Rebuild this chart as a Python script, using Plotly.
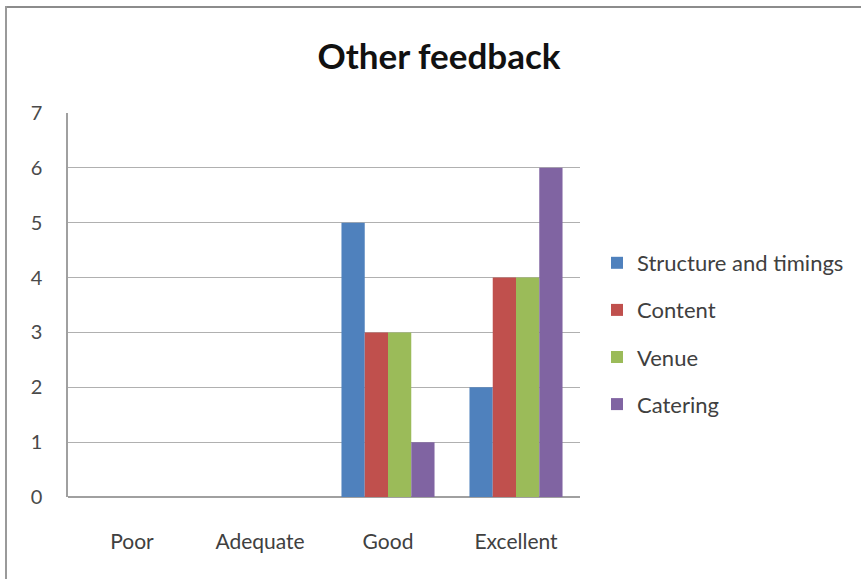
import plotly.graph_objects as go

categories = ["Poor", "Adequate", "Good", "Excellent"]
structure = [0, 0, 5, 2]
content = [0, 0, 3, 4]
venue = [0, 0, 3, 4]
catering = [0, 0, 1, 6]

series_names = ["Structure and timings", "Content", "Venue", "Catering"]
series_vals = [structure, content, venue, catering]
colors = ["#4F81BD", "#C0504D", "#9BBB59", "#8064A2"]

W, H = 861, 579
L, R, T, B = 68, 281, 113, 82
pw, ph = W - L - R, H - T - B

fig = go.Figure()
for i, (name, vals, c) in enumerate(zip(series_names, series_vals, colors)):
    fig.add_trace(go.Bar(x=categories, y=vals, name=name, marker_color=c,
                         marker_line_width=0, legendgroup=str(i)))

font = "Lato, Open Sans, sans-serif"
fig.update_layout(
    width=W, height=H,
    margin=dict(l=L, r=R, t=T, b=B),
    paper_bgcolor="white", plot_bgcolor="white",
    barmode="group", bargap=0.273, bargroupgap=0,
    title=dict(text="<b>Other feedback</b>", x=439 / W, xanchor="center",
               y=1 - 57 / H, yanchor="middle",
               font=dict(family=font, size=35, color="#111111")),
    font=dict(family=font, color="#404040"),
    showlegend=True,
    legend=dict(x=(597 - L) / pw, xanchor="left", y=(497 - 242) / ph, yanchor="top",
                font=dict(size=22, color="#404040"), tracegroupgap=15.5,
                traceorder="grouped", itemwidth=30, bgcolor="rgba(0,0,0,0)"),
    xaxis=dict(showgrid=False, showline=False, ticks="", tickfont=dict(size=21, color="#404040"),
               ticklabelstandoff=30),
    yaxis=dict(range=[0, 7], dtick=1, showgrid=True, gridcolor="#B0B0B0", gridwidth=1,
               showline=True, linecolor="#A0A0A0", linewidth=1.5, zeroline=True,
               zerolinecolor="#A0A0A0", zerolinewidth=1.5,
               tickfont=dict(size=20, color="#4a4a4a"), ticklabelstandoff=20),
)

# outer chart border (top and left visible)
fig.add_shape(type="line", xref="paper", yref="paper",
              x0=(5 - L) / pw, x1=(W - L) / pw, y0=(H - B - 7) / ph, y1=(H - B - 7) / ph,
              line=dict(color="#8C8C8C", width=2))
fig.add_shape(type="line", xref="paper", yref="paper",
              x0=(6 - L) / pw, x1=(6 - L) / pw, y0=(H - B - 6) / ph, y1=(H - B - H) / ph,
              line=dict(color="#9A9A9A", width=2))

fig.write_html("out.html", config={"displayModeBar": False},
               post_script="document.body.style.margin='0px';")
